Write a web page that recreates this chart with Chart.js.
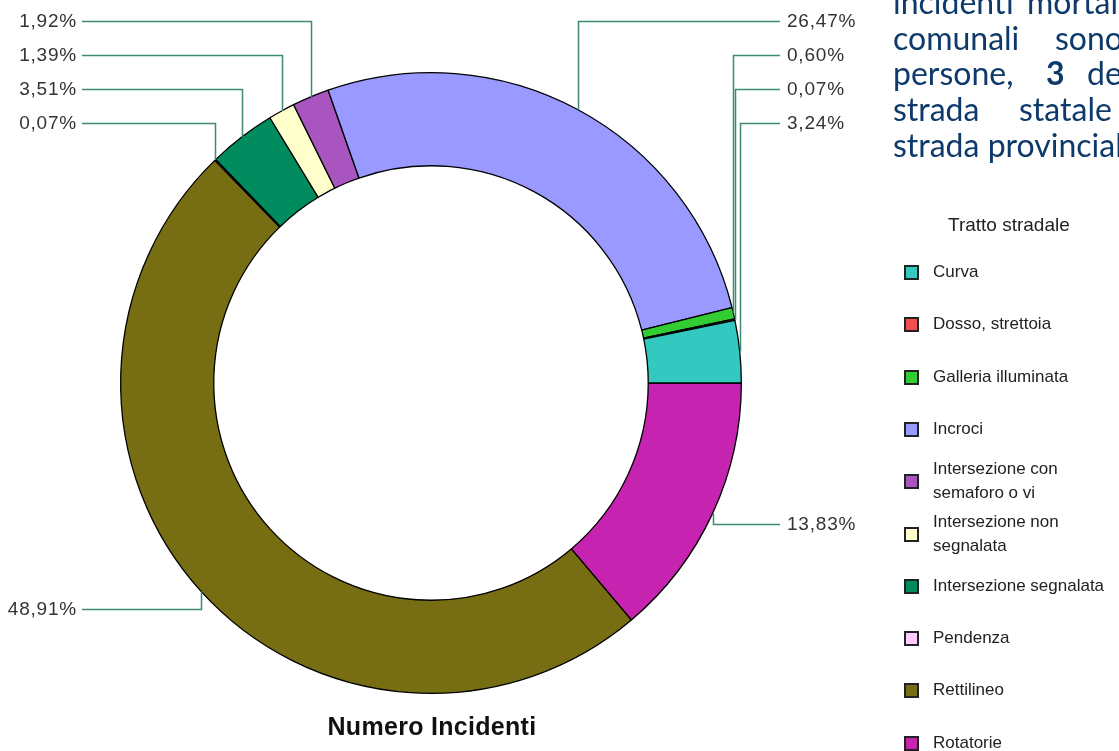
<!DOCTYPE html>
<html>
<head>
<meta charset="utf-8">
<script src="https://cdn.jsdelivr.net/npm/chart.js@4.4.1/dist/chart.umd.min.js"></script>
<style>
  html, body { margin: 0; padding: 0; background: #fff; overflow: hidden; }
  #wrap { position: relative; width: 1119px; height: 751px; overflow: hidden; }
  #chart { position: absolute; left: 0; top: 0; }
  .slide-line { position: absolute; left: 0; font-family: Lato, "Open Sans", sans-serif; font-size: 32px; line-height: 36px; color: #0d3a6b; white-space: nowrap; }
  .slide-line span { position: absolute; top: 0; }
  #title { position: absolute; left: 182px; width: 500px; top: 712px; text-align: center; font: bold 25px "Liberation Sans", Arial, sans-serif; letter-spacing: 0.3px; color: #111; }
  #legendTitle { position: absolute; left: 948px; top: 214px; font: 19px "Liberation Sans", Arial, sans-serif; color: #222; white-space: nowrap; }
  .leg-item { position: absolute; left: 904px; width: 260px; height: 50px; }
  .leg-box { position: absolute; left: 0; top: 50%; width: 11px; height: 11px; margin-top: -7px; border: 2px solid #222; }
  .leg-text { position: absolute; left: 29px; top: 50%; transform: translateY(-50%); width: 186px; font: 17px "Liberation Sans", Arial, sans-serif; line-height: 24px; color: #222; }
</style>
</head>
<body>
<div id="wrap">
  <canvas id="chart" width="1119" height="751"></canvas>
  <div id="slide"></div>
  <div id="title">Numero Incidenti</div>
  <div id="legendTitle">Tratto stradale</div>
  <div id="legend"></div>
</div>
<script>
// road section types, in legend order
const categories = [
  "Curva",
  "Dosso, strettoia",
  "Galleria illuminata",
  "Incroci",
  "Intersezione con semaforo o vi",
  "Intersezione non segnalata",
  "Intersezione segnalata",
  "Pendenza",
  "Rettilineo",
  "Rotatorie"
];
// share of accidents (%)
const shares = [3.24, 0.07, 0.60, 26.47, 1.92, 1.39, 3.51, 0.07, 48.91, 13.83];
const colors = [
  "#33c9c0", "#f0504f", "#33cc33", "#9999ff", "#a855c0",
  "#ffffcc", "#008c5e", "#ffccff", "#776e14", "#c623b0"
];

// row (y) where each percentage label sits
const labelRows = {
  "Incroci": 21, "Galleria illuminata": 55, "Dosso, strettoia": 89, "Curva": 123, "Rotatorie": 524,
  "Intersezione con semaforo o vi": 21, "Intersezione non segnalata": 55,
  "Intersezione segnalata": 89, "Pendenza": 123, "Rettilineo": 609
};

// slices run counter-clockwise from 3 o'clock, so feed them reversed
const chartLabels = categories.slice().reverse();
const chartData = shares.slice().reverse();
const chartColors = colors.slice().reverse();

function fmt(v) {
  return v.toFixed(2).replace(".", ",") + "%";
}

const leaderLabels = {
  id: "leaderLabels",
  afterDatasetsDraw(chart) {
    const ctx = chart.ctx;
    const meta = chart.getDatasetMeta(0);
    ctx.save();
    ctx.font = "19px 'Liberation Sans', Arial, sans-serif";
    ctx.letterSpacing = "0.8px";
    ctx.fillStyle = "#333";
    ctx.textBaseline = "middle";
    ctx.strokeStyle = "#3f8a73";
    ctx.lineWidth = 1.5;
    meta.data.forEach((arc, i) => {
      const name = chartLabels[i];
      const rowY = labelRows[name];
      const mid = (arc.startAngle + arc.endAngle) / 2;
      const px = arc.x + Math.cos(mid) * arc.outerRadius;
      const py = arc.y + Math.sin(mid) * arc.outerRadius;
      const right = Math.cos(mid) > 0;
      const endX = right ? 780 : 82;
      ctx.beginPath();
      ctx.moveTo(Math.round(px) + 0.5, py);
      ctx.lineTo(Math.round(px) + 0.5, rowY + 0.5);
      ctx.lineTo(endX, rowY + 0.5);
      ctx.stroke();
      ctx.textAlign = right ? "left" : "right";
      ctx.fillText(fmt(chartData[i]), right ? 787 : 77, rowY + 1);
    });
    ctx.restore();
  }
};

new Chart(document.getElementById("chart"), {
  type: "doughnut",
  data: {
    labels: chartLabels,
    datasets: [{
      data: chartData,
      backgroundColor: chartColors,
      borderColor: "#000",
      borderWidth: 1.3
    }]
  },
  options: {
    responsive: false,
    animation: false,
    rotation: 90,
    cutout: "70%",
    layout: { padding: { left: 120, right: 377, top: 72, bottom: 57 } },
    plugins: {
      legend: { display: false },
      tooltip: { enabled: false }
    }
  },
  plugins: [leaderLabels]
});

// legend built from the same arrays
const legend = document.getElementById("legend");
categories.forEach((name, i) => {
  const item = document.createElement("div");
  item.className = "leg-item";
  item.style.top = (272 + i * 52.3 - 25) + "px";
  const box = document.createElement("div");
  box.className = "leg-box";
  box.style.background = colors[i];
  const txt = document.createElement("div");
  txt.className = "leg-text";
  txt.textContent = name;
  item.appendChild(box);
  item.appendChild(txt);
  legend.appendChild(item);
});

// slide text partly visible at the top right
const slideLines = [
  [["incidenti", 893], ["mortali", 1027]],
  [["comunali", 893], ["sono", 1055]],
  [["persone,", 893], ["3", 1046, true], ["dei", 1087]],
  [["strada", 893], ["statale", 1019]],
  [["strada provinciale", 893]]
];
const slide = document.getElementById("slide");
slideLines.forEach((words, li) => {
  const line = document.createElement("div");
  line.className = "slide-line";
  line.style.top = (-16 + li * 35.7) + "px";
  words.forEach(([w, x, bold]) => {
    const s = document.createElement("span");
    s.textContent = w;
    s.style.left = x + "px";
    if (bold) s.style.fontWeight = "bold";
    line.appendChild(s);
  });
  slide.appendChild(line);
});
</script>
</body>
</html>
